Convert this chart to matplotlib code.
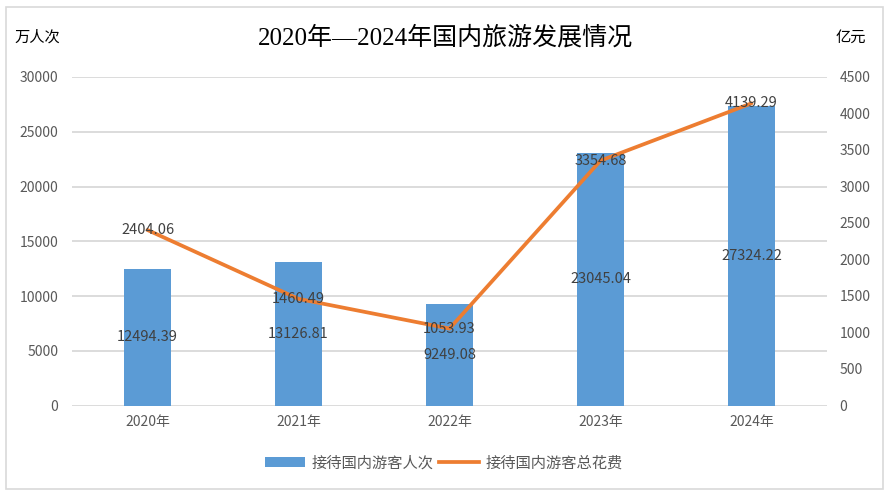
import matplotlib.pyplot as plt
from matplotlib.patches import Rectangle
from matplotlib.lines import Line2D
from matplotlib.patches import Patch

plt.rcParams['font.family'] = ['Noto Sans CJK SC', 'DejaVu Sans']

years = ['2020年', '2021年', '2022年', '2023年', '2024年']
visitors = [12494.39, 13126.81, 9249.08, 23045.04, 27324.22]   # 万人次
spending = [2404.06, 1460.49, 1053.93, 3354.68, 4139.29]       # 亿元

bar_color = '#5B9BD5'
line_color = '#ED7D31'
text_color = '#404040'
tick_color = '#595959'

fig = plt.figure(figsize=(8.91, 4.95), dpi=100)
fig.patches.append(Rectangle((6 / 891, 6 / 495), 877 / 891, 482 / 495,
                             transform=fig.transFigure, fill=False,
                             edgecolor='#D9D9D9', linewidth=1.2))

ax = fig.add_axes([72 / 891, 1 - 405.5 / 495, 755 / 891, 328.5 / 495])
ax2 = ax.twinx()

x = range(len(years))
ax.bar(x, visitors, width=0.31, color=bar_color, zorder=2)
ax.set_xlim(-0.5, 4.5)
ax.set_ylim(0, 30000)
ax.set_yticks(range(0, 30001, 5000))
ax.grid(axis='y', color='#D9D9D9', linewidth=1.3, zorder=0)
ax.set_axisbelow(True)
ax.set_xticks(list(x))
ax.set_xticklabels(years)

ax2.plot(list(x), spending, color=line_color, linewidth=2.7,
         solid_capstyle='round', zorder=3)
ax2.set_ylim(0, 4500)
ax2.set_yticks(range(0, 4501, 500))

for a in (ax, ax2):
    for s in a.spines.values():
        s.set_visible(False)
    a.tick_params(length=0, labelsize=10, labelcolor=tick_color)
ax.tick_params(axis='y', pad=10)
ax.tick_params(axis='x', pad=7)
ax2.tick_params(axis='y', pad=9)
ax.set_zorder(1)
ax2.set_zorder(2)
ax2.patch.set_visible(False)

for i, v in enumerate(visitors):
    ax.text(i, v / 2, f'{v:.2f}', ha='center', va='center',
            fontsize=10.5, color=text_color, zorder=4)
for i, v in enumerate(spending):
    ax2.text(i, v, f'{v:.2f}', ha='center', va='center',
             fontsize=10.5, color=text_color, zorder=4)

fig.text(445 / 891, 1 - 38 / 495, '2020年—2024年国内旅游发展情况',
         ha='center', va='center', fontsize=18, weight='medium',
         family=['Liberation Serif', 'Noto Sans CJK SC'])
fig.text(14 / 891, 1 - 37 / 495, '万人次', ha='left', va='center',
         fontsize=11, color='black')
fig.text(836 / 891, 1 - 37 / 495, '亿元', ha='left', va='center',
         fontsize=11, color='black')

handles = [Patch(facecolor=bar_color, edgecolor='none'),
           Line2D([0], [0], color=line_color, linewidth=2.7)]
fig.legend(handles, ['接待国内游客人次', '接待国内游客总花费'],
           loc='center', bbox_to_anchor=(444 / 891, 1 - 463 / 495),
           ncol=2, frameon=False, fontsize=11, handlelength=2.6,
           handleheight=0.6, columnspacing=0.4, handletextpad=0.4,
           labelcolor=tick_color)

fig.savefig('out.png', dpi=100)
